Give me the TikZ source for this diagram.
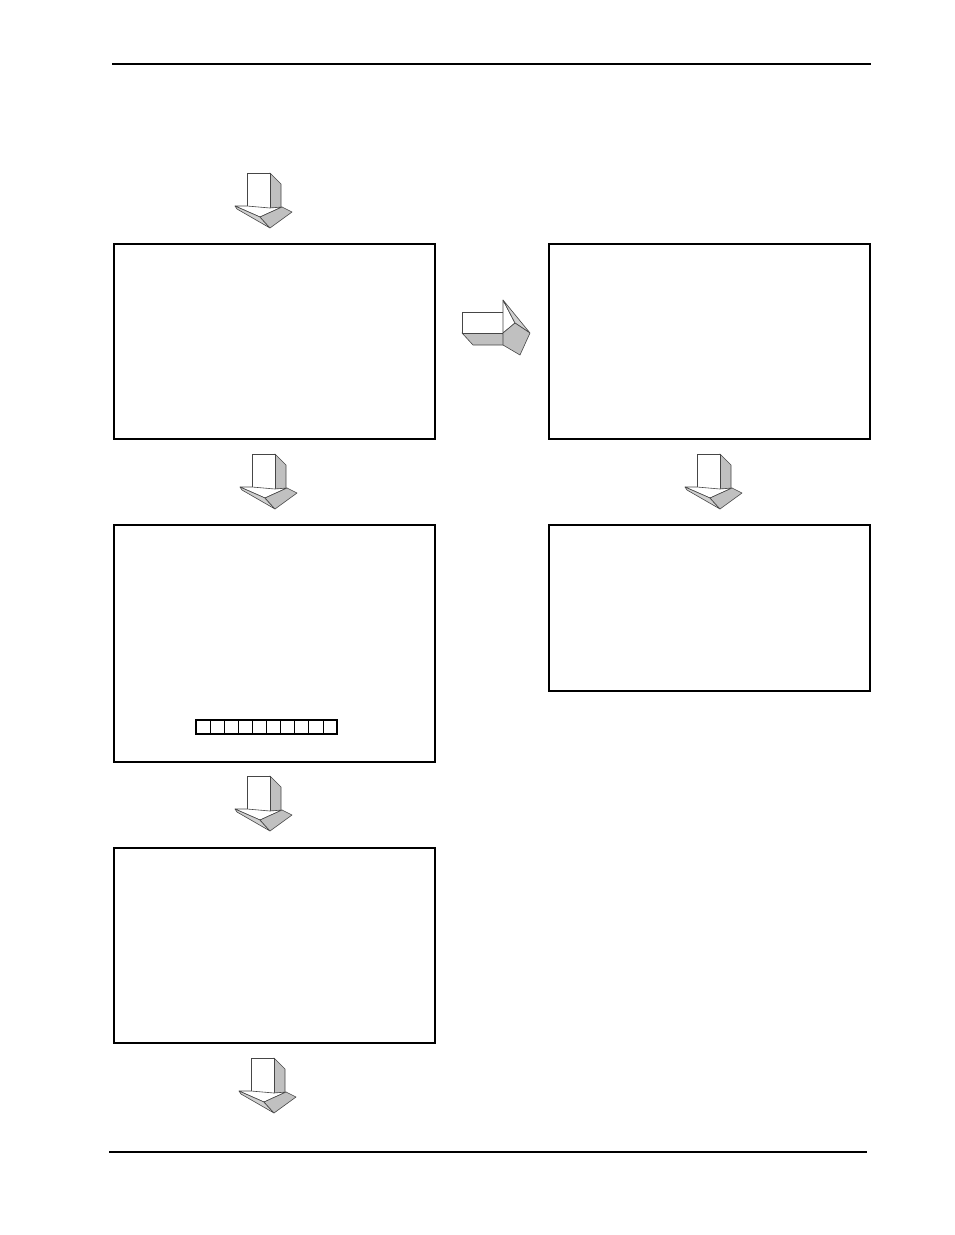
\documentclass[tikz,border=0pt]{standalone}
\usetikzlibrary{positioning}

\definecolor{facegray}{RGB}{192,192,192}
\definecolor{lightface}{RGB}{208,208,208}
\definecolor{edgegray}{RGB}{70,70,70}

\tikzset{
  stagebox/.style={draw, line width=2pt, rectangle, anchor=north west,
    minimum width=321pt, minimum height=195pt, inner sep=0pt},
  faceline/.style={draw=edgegray, line width=0.6pt, line join=round},
  downblock/.pic={
    \filldraw[faceline, fill=facegray] (50,8) -- (61,19) -- (61,43) -- (50,43) -- cycle;
    \filldraw[faceline, fill=white] (27,8) rectangle (50,43);
    \filldraw[faceline, fill=white] (15,41) -- (27,41) -- (50,43) -- (62,42) -- (40,52) -- cycle;
    \filldraw[faceline, fill=lightface] (15,41) -- (40,52) -- (50,63) -- (17,44) -- cycle;
    \filldraw[faceline, fill=facegray] (40,52) -- (62,42) -- (72,47) -- (50,63) -- cycle;
  },
  rightblock/.pic={
    \filldraw[faceline, fill=facegray] (12,43) -- (23,55) -- (55,55) -- (53,43) -- cycle;
    \filldraw[faceline, fill=white] (12,22) rectangle (53,43);
    \filldraw[faceline, fill=white] (53,10) -- (65,33) -- (53,43) -- cycle;
    \filldraw[faceline, fill=lightface] (53,10) -- (80,43) -- (65,33) -- cycle;
    \filldraw[faceline, fill=facegray] (65,33) -- (80,43) -- (70,65) -- (53,55) -- (53,43) -- cycle;
  }
}

\begin{document}
\begin{tikzpicture}[x=1pt, y=-1pt]
  \useasboundingbox (0,0) rectangle (954,1235);

  % page rules
  \coordinate (topl) at (112,64);
  \coordinate (topr) at (871,64);
  \coordinate (botl) at (109,1152);
  \coordinate (botr) at (867,1152);
  \draw[line width=2.5pt] (topl) -- (topr);
  \draw[line width=1.3pt] (botl) -- (botr);

  % stages
  \node[stagebox] (stageA) at (113,243) {};
  \node[stagebox] (stageB) at (548,243) {};
  \node[stagebox, minimum height=237pt] (stageC) at (113,524) {};
  \node[stagebox, minimum height=166pt] (stageD) at (548,524) {};
  \node[stagebox] (stageE) at (113,847) {};

  % register strip in stage C
  \draw[line width=1.6pt] (196,720) rectangle (337,734);
  \foreach \i in {1,...,9}
    \draw[line width=0.8pt] (196+\i*14.1,720) -- (196+\i*14.1,734);

  % block arrows
  \pic at (220,165) {downblock};
  \pic at (225,446) {downblock};
  \pic at (670,446) {downblock};
  \pic at (220,768) {downblock};
  \pic at (224,1050) {downblock};
  \pic at (450,290) {rightblock};
\end{tikzpicture}
\end{document}
